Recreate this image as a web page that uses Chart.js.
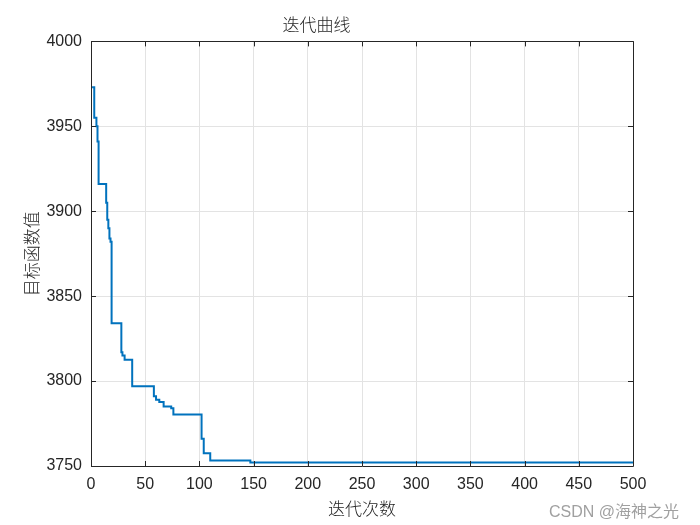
<!DOCTYPE html>
<html>
<head>
<meta charset="utf-8">
<script src="https://cdn.jsdelivr.net/npm/chart.js@4/dist/chart.umd.min.js"></script>
<style>
  body { margin: 0; background: #fff; }
  #wrap { position: relative; width: 700px; height: 525px; }
  #mark { position: absolute; left: 549px; top: 498px; font: 16px "Liberation Sans", "Noto Sans CJK SC", sans-serif; color: #a0a0a0; white-space: nowrap; }
</style>
</head>
<body>
<div id="wrap">
  <canvas id="iterChart" width="700" height="525"></canvas>
  <div id="mark">CSDN @海神之光</div>
</div>
<script>
// iteration at which the best value changes, and the new best value
var iterations = [1, 3, 5, 6, 7, 14, 15, 16, 17, 18, 19, 28, 29, 31, 38, 58, 60, 63, 67, 74, 76, 102, 104, 110, 147, 500];
var bestValues = [3973, 3955, 3950, 3941, 3916, 3905, 3895, 3890, 3884, 3882, 3834, 3817, 3815, 3812.6, 3797, 3791, 3789, 3787.7, 3785, 3784, 3780.3, 3766, 3757.5, 3753.2, 3752, 3752];
var xTicks = [0, 50, 100, 150, 200, 250, 300, 350, 400, 450, 500];
var yTicks = [3750, 3800, 3850, 3900, 3950, 4000];

var cjkFont = '"Noto Sans CJK SC", sans-serif';
var numFont = '"Liberation Sans", Arial, sans-serif';
var inkColor = '#262626';

var points = [];
for (var i = 0; i < iterations.length; i++) {
    points.push({ x: iterations[i], y: bestValues[i] });
}

// box round the plot with short inward tick marks, matlab style
var boxPlugin = {
    id: 'boxTicks',
    afterDraw: function(chart) {
        var ctx = chart.ctx;
        var a = chart.chartArea;
        var xs = chart.scales.x, ys = chart.scales.y;
        var len = 5;
        ctx.save();
        ctx.strokeStyle = inkColor;
        ctx.lineWidth = 1;
        ctx.beginPath();
        ctx.rect(Math.round(a.left) + 0.5, Math.round(a.top) + 0.5, Math.round(a.right - a.left), Math.round(a.bottom - a.top));
        xTicks.forEach(function(v) {
            var px = Math.round(xs.getPixelForValue(v)) + 0.5;
            ctx.moveTo(px, a.bottom); ctx.lineTo(px, a.bottom - len);
            ctx.moveTo(px, a.top); ctx.lineTo(px, a.top + len);
        });
        yTicks.forEach(function(v) {
            var py = Math.round(ys.getPixelForValue(v)) + 0.5;
            ctx.moveTo(a.left, py); ctx.lineTo(a.left + len, py);
            ctx.moveTo(a.right, py); ctx.lineTo(a.right - len, py);
        });
        ctx.stroke();
        ctx.restore();
    }
};

function plain(v) { return String(v); }

var ctx = document.getElementById('iterChart').getContext('2d');
new Chart(ctx, {
    type: 'line',
    data: {
        datasets: [{
            data: points,
            stepped: true,
            borderColor: '#0072BD',
            borderWidth: 2,
            pointRadius: 0,
            fill: false
        }]
    },
    options: {
        responsive: false,
        animation: false,
        layout: { padding: { left: 0, right: 67, top: 0, bottom: 0 } },
        plugins: {
            legend: { display: false },
            tooltip: { enabled: false },
            title: {
                display: true,
                text: '迭代曲线',
                color: inkColor,
                font: { family: cjkFont, size: 17, weight: 300 },
                padding: { top: 14, bottom: 7 }
            }
        },
        scales: {
            x: {
                type: 'linear',
                min: 0,
                max: 500,
                afterFit: function(s) { s.height = 59; },
                afterBuildTicks: function(s) { s.ticks = xTicks.map(function(v) { return { value: v }; }); },
                ticks: { color: inkColor, padding: 9, maxRotation: 0, callback: plain, font: { family: numFont, size: 16 } },
                grid: { color: '#e3e3e3', drawTicks: false },
                border: { display: false },
                title: {
                    display: true,
                    text: '迭代次数',
                    color: inkColor,
                    font: { family: cjkFont, size: 17, weight: 300 },
                    padding: { top: 0, bottom: 6 }
                }
            },
            y: {
                min: 3750,
                max: 4000,
                afterFit: function(s) { s.width = 91; },
                afterBuildTicks: function(s) { s.ticks = yTicks.map(function(v) { return { value: v }; }); },
                ticks: { color: inkColor, padding: 9, callback: plain, font: { family: numFont, size: 16 } },
                grid: { color: '#e3e3e3', drawTicks: false },
                border: { display: false },
                title: {
                    display: true,
                    text: '目标函数值',
                    color: inkColor,
                    font: { family: cjkFont, size: 17, weight: 300 },
                    padding: { top: 21, bottom: 0 }
                }
            }
        }
    },
    plugins: [boxPlugin]
});
</script>
</body>
</html>
